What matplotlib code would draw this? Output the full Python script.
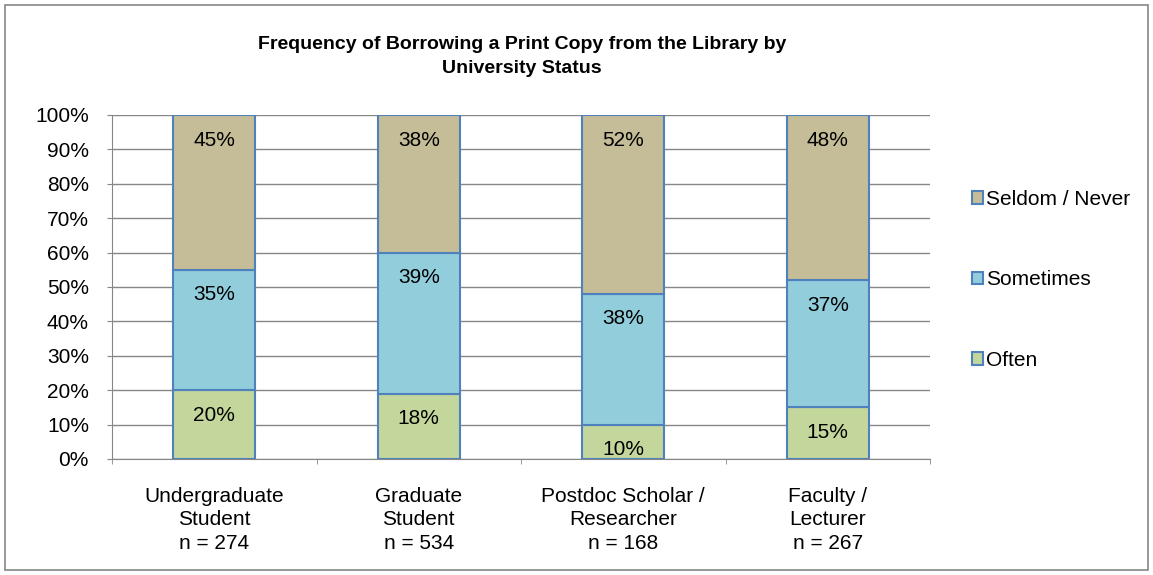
import matplotlib.pyplot as plt
from matplotlib.patches import Rectangle
from matplotlib.ticker import PercentFormatter

plt.rcParams['font.family'] = ['Liberation Sans', 'DejaVu Sans']

categories = ["Undergraduate\nStudent\nn = 274", "Graduate\nStudent\nn = 534",
              "Postdoc Scholar /\nResearcher\nn = 168", "Faculty /\nLecturer\nn = 267"]
often = [20, 18, 10, 15]
sometimes = [35, 39, 38, 37]
seldom = [45, 38, 52, 48]
series_names = ["Often", "Sometimes", "Seldom / Never"]
colors = ["#C3D69B", "#92CDDC", "#C4BD97"]
edge = "#4F81BD"

fig = plt.figure(figsize=(11.53, 5.75), dpi=100)
ax = fig.add_axes([112 / 1153, 1 - 459 / 575, 818 / 1153, 344 / 575])

# 100% stacked: each column scaled to its own total, labels keep raw values
totals = [a + b + c for a, b, c in zip(often, sometimes, seldom)]
x = list(range(len(categories)))
bottom = [0] * len(categories)
for vals, name, col in zip([often, sometimes, seldom], series_names, colors):
    heights = [v / t * 100 for v, t in zip(vals, totals)]
    ax.bar(x, heights, width=0.4, bottom=bottom, color=col, edgecolor=edge,
           linewidth=1.5, label=name, zorder=3)
    for xi, v, h, b0 in zip(x, vals, heights, bottom):
        ax.annotate(f"{v}%", (xi, b0 + h), xytext=(0, -18), textcoords="offset points",
                    ha="center", va="center", fontsize=15, zorder=4)
    bottom = [b0 + h for b0, h in zip(bottom, heights)]

ax.set_xlim(-0.5, len(categories) - 0.5)
ax.set_ylim(0, 100)
ax.set_yticks(range(0, 101, 10))
ax.yaxis.set_major_formatter(PercentFormatter(decimals=0))
ax.grid(axis="y", color="#868686", linewidth=1, zorder=0)
ax.set_xticks(x)
ax.set_xticklabels(categories, fontsize=15, linespacing=1.3)
ax.tick_params(axis="x", length=0, pad=20)
ax.set_xticks([i - 0.5 for i in range(len(categories) + 1)], minor=True)
ax.tick_params(axis="x", which="minor", length=3.6, color="#868686", direction="out")
ax.tick_params(axis="y", length=3.6, color="#868686", labelsize=15, pad=13)
for s in ["top", "right"]:
    ax.spines[s].set_visible(False)
ax.spines["left"].set_color("#868686")
ax.spines["bottom"].set_color("#868686")

handles, labels = ax.get_legend_handles_labels()
fig.legend(handles[::-1], labels[::-1], loc="upper left",
           bbox_to_anchor=(953 / 1153, 1 - 171 / 575), frameon=False,
           fontsize=15, handlelength=0.55, handleheight=0.55, handletextpad=0.15,
           labelspacing=2.95)

fig.text(522 / 1153, 1 - 56.5 / 575,
         "Frequency of Borrowing a Print Copy from the Library by\nUniversity Status",
         ha="center", va="center", fontsize=14, fontweight="bold", linespacing=1.5)

fig.patches.append(Rectangle((5 / 1153, 5 / 575), 1143 / 1153, 565 / 575,
                             transform=fig.transFigure, fill=False,
                             edgecolor="#868686", linewidth=1.2))

fig.savefig("out.png", dpi=100)
